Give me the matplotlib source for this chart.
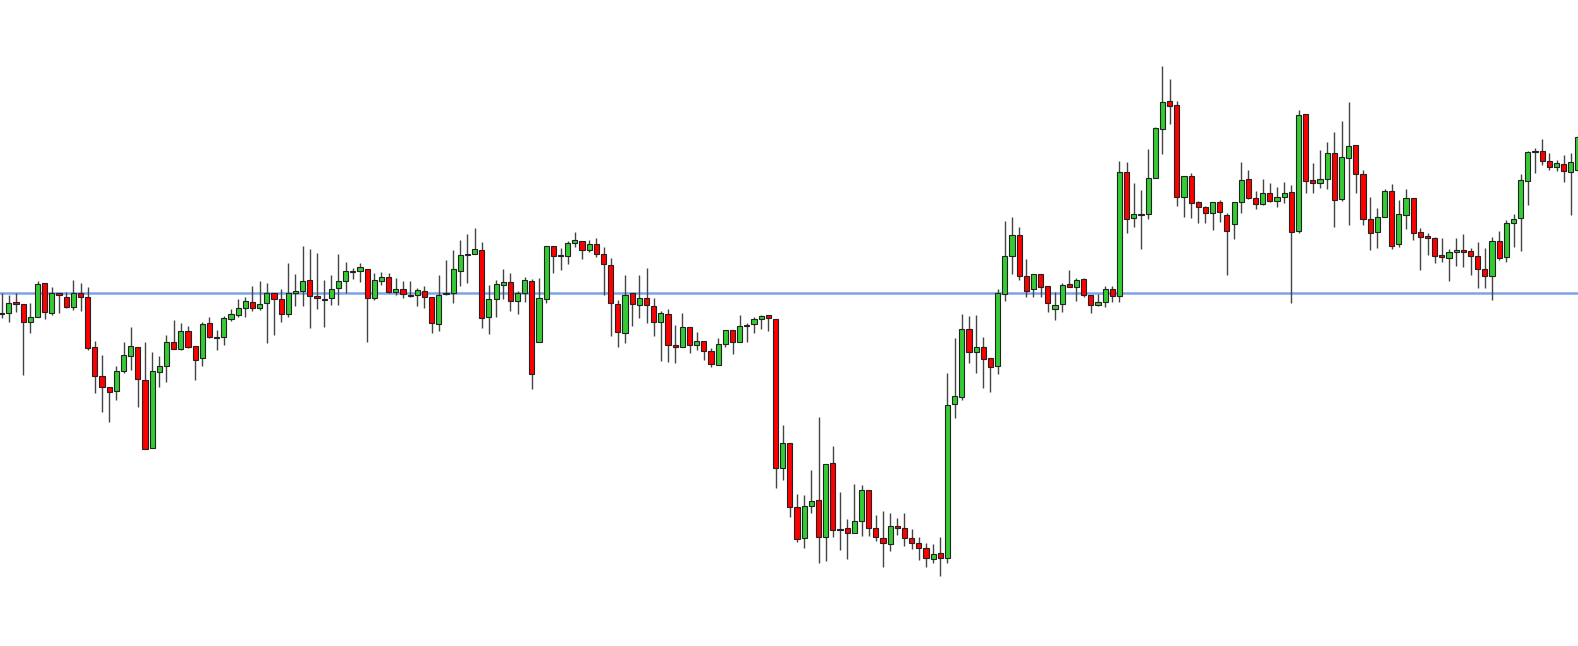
import matplotlib
matplotlib.use("Agg")
import matplotlib.pyplot as plt
from matplotlib.patches import Rectangle

# Chart levels (screen-scale, higher value = lower on chart)
ohlc = [
(313,293,318,313),(313,295,322,303),(302,293,312,304),(304,304,375,322),(322,303,333,317),
(317,281,317,284),(283,283,319,312),(313,287,315,293),(293,293,313,295),(297,292,308,307),
(307,280,310,293),(293,283,311,297),(297,287,350,348),(347,341,393,376),(376,355,412,387),
(387,387,422,392),(391,366,400,371),(371,342,373,355),(356,327,370,346),(347,347,407,379),
(380,342,449,449),(448,352,448,371),(372,356,387,366),(366,335,382,342),(342,320,349,349),
(349,323,350,331),(331,326,348,347),(346,346,380,360),(358,322,366,324),(323,317,338,337),
(337,330,350,337),(337,316,345,318),(319,309,321,314),(315,299,317,308),(308,297,317,301),
(302,286,311,308),(308,281,310,304),(303,283,343,293),(293,293,335,299),(299,289,322,314),
(314,263,317,293),(293,274,306,291),(291,246,306,281),(280,249,328,296),(296,253,309,298),
(299,280,327,299),(298,275,305,289),(288,254,305,281),(281,262,293,271),(271,268,279,271),
(271,263,282,267),(269,269,342,298),(298,273,300,280),(281,272,285,277),(277,273,293,292),
(292,278,295,289),(289,281,298,294),(295,281,297,295),(295,288,306,290),(291,286,308,297),
(297,297,333,323),(324,275,331,295),(293,260,295,293),(293,250,303,269),(271,240,286,255),
(254,234,283,254),(254,228,254,249),(250,242,328,318),(317,285,334,299),(299,280,317,284),
(285,269,299,282),(282,273,311,301),(301,291,314,293),(293,277,302,280),(281,279,389,374),
(342,278,342,298),(299,246,303,246),(246,246,273,256),(256,248,270,255),(256,241,264,243),
(243,232,247,240),(241,241,259,250),(250,240,252,244),(244,238,257,254),(254,247,295,264),
(265,258,336,303),(304,300,347,332),(333,275,343,295),(293,293,326,304),(305,275,318,298),
(298,268,323,305),(306,298,336,322),(322,311,361,313),(314,309,362,345),(345,325,363,347),
(347,313,347,327),(327,327,353,345),(345,332,350,341),(341,341,360,351),(351,348,367,364),
(365,338,365,344),(344,330,347,330),(330,330,354,342),(342,315,342,326),(325,323,342,325),
(324,317,333,319),(319,315,329,316),(315,315,331,318),(319,319,488,468),(468,425,480,443),
(443,443,517,507),(507,494,542,539),(538,495,548,506),(506,470,513,501),(500,417,563,537),
(537,464,561,464),(463,446,537,530),(529,492,550,529),(528,519,559,533),(533,484,533,521),
(521,485,536,490),(490,490,536,528),(528,515,541,537),(538,511,567,543),(544,513,551,526),
(526,518,535,528),(528,513,546,538),(538,529,549,543),(543,537,560,548),(548,543,567,558),
(559,544,563,554),(553,537,576,558),(558,373,563,405),(404,338,418,396),(397,314,400,329),
(329,316,363,352),(352,315,373,347),(347,337,388,359),(358,358,392,367),(366,289,374,293),
(294,221,301,256),(256,217,274,235),(235,227,280,276),(276,259,297,291),(289,274,297,274),
(274,274,297,287),(286,286,312,303),(309,292,320,305),(304,283,312,285),(284,270,287,287),
(287,278,301,280),(279,278,297,295),(295,295,313,305),(305,294,306,302),(302,286,307,289),
(289,286,302,296),(296,161,302,172),(172,162,233,219),(218,183,227,214),(214,190,249,214),
(214,149,219,178),(178,127,178,128),(129,66,154,102),(101,79,124,106),(105,101,206,197),
(197,176,217,176),(176,173,218,203),(202,201,223,207),(207,206,223,213),(213,202,230,202),
(202,200,222,212),(215,213,275,231),(224,202,239,202),(202,162,213,180),(179,170,199,198),
(198,191,209,204),(204,179,205,193),(193,183,202,201),(201,187,207,197),(197,182,203,193),
(192,185,303,232),(231,110,233,115),(114,114,193,181),(180,163,193,183),(183,150,188,179),
(179,142,189,153),(153,132,227,200),(199,121,201,157),(158,102,225,146),(145,145,193,174),
(174,170,225,219),(219,197,250,233),(232,208,248,217),(217,189,217,191),(191,184,249,246),
(244,200,247,214),(215,189,229,198),(198,198,240,233),(232,228,270,237),(236,233,255,238),
(238,237,263,256),(255,238,262,257),(258,249,281,252),(252,238,266,250),(250,234,267,252),
(251,248,275,256),(256,242,288,269),(269,248,288,276),(276,237,300,241),(241,231,260,258),
(257,220,262,223),(223,214,247,219),(218,174,251,180),(181,151,205,152),(152,148,173,151),
(151,139,165,161),(161,153,170,167),(167,160,171,163),(164,155,182,171),(172,153,215,162),
(170,135,172,137),
]
opens = [r[0] for r in ohlc]
highs = [r[1] for r in ohlc]
lows = [r[2] for r in ohlc]
closes = [r[3] for r in ohlc]
ref_level = 293

fig = plt.figure(figsize=(15.78, 6.46), dpi=100)
ax = fig.add_axes([0, 0, 1, 1])
ax.axis("off")
step = 7.165
ax.set_xlim(-1.7 / step, (1578 - 1.7) / step)
ax.set_ylim(646, 0)

ax.axhline(ref_level, color="#7fa3e8", lw=1.8, zorder=1)
w = 0.72
for i, (o, h, l, c) in enumerate(zip(opens, highs, lows, closes)):
    ax.vlines(i, h, l, color="#444444", lw=1.0, zorder=2)
    col = "#33cc33" if c <= o else "#ff0000"
    top = min(o, c)
    hgt = max(abs(o - c), 0.8)
    ax.add_patch(Rectangle((i - w / 2, top), w, hgt, facecolor=col,
                           edgecolor="#222222", lw=0.8, zorder=3))

fig.savefig("out.png", dpi=100)
